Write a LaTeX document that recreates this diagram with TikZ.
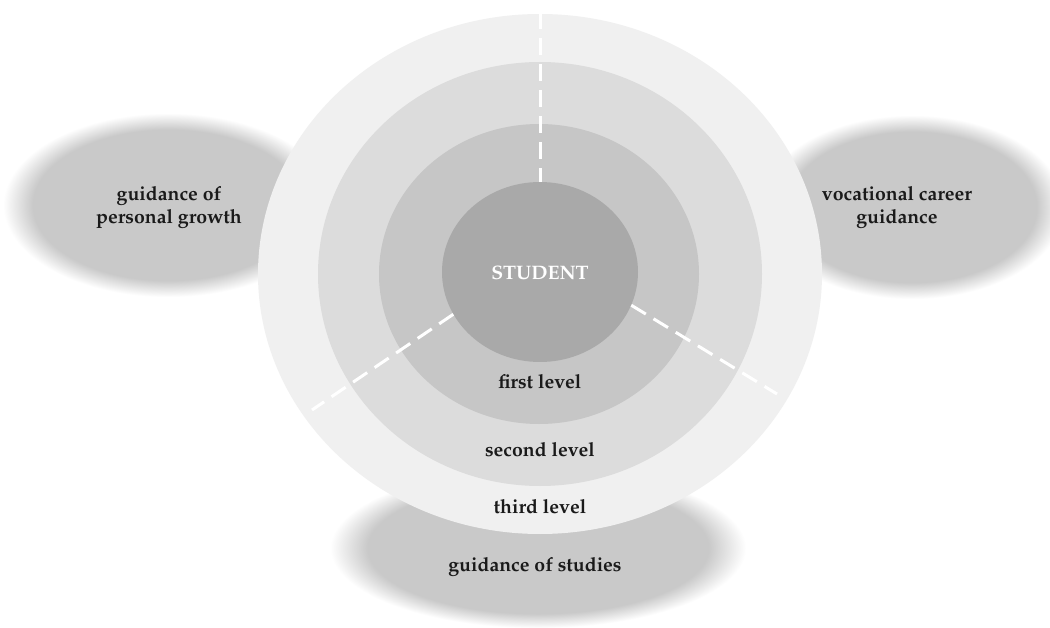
\documentclass[tikz,border=0pt]{standalone}
\usepackage[T1]{fontenc}
\renewcommand{\rmdefault}{ppl}
\usetikzlibrary{shapes.geometric}
\definecolor{blobg}{HTML}{C9C9C9}
\definecolor{ringa}{HTML}{F0F0F0}
\definecolor{ringb}{HTML}{DCDCDC}
\definecolor{ringc}{HTML}{C6C6C6}
\definecolor{ringd}{HTML}{A9A9A9}
\definecolor{labc}{HTML}{1A1A1A}
\pgfdeclareradialshading{blob}{\pgfpoint{0bp}{0bp}}{color(0bp)=(blobg); color(20.5bp)=(blobg); color(25bp)=(white); color(50bp)=(white)}
\begin{document}
\begin{tikzpicture}[x=1pt,y=-1pt,
  ring/.style={ellipse, inner sep=0pt, draw=none},
  lab/.style={font=\fontsize{19.5}{23}\selectfont\bfseries, text=labc, align=center, inner sep=0pt},
  divider/.style={draw=white, line width=3pt, dash pattern=on 17pt off 9pt}]
\useasboundingbox[fill=white] (0,0) rectangle (1050,628);
% soft background blobs
\shade[shading=blob] (168,205) ellipse [x radius=165, y radius=92];
\shade[shading=blob] (912,207) ellipse [x radius=152, y radius=92];
\shade[shading=blob] (538,548) ellipse [x radius=208, y radius=80];
% rings
\node[ring, fill=ringa, minimum width=564pt, minimum height=520pt] (outer) at (540,274) {};
\node[ring, fill=ringb, minimum width=444pt, minimum height=424pt] (second) at (540,274) {};
\node[ring, fill=ringc, minimum width=320pt, minimum height=300pt] (third) at (539,274) {};
\node[ring, fill=ringd, minimum width=196pt, minimum height=180pt] (inner) at (540,272) {};
% dividers
\coordinate (topend) at (540,12);
\coordinate (leftend) at (312,410);
\coordinate (rightend) at (777,394);
\draw[divider] (topend) -- (inner.90);
\draw[divider] (inner.206) -- (leftend);
\draw[divider] (inner.340) -- (rightend);
% labels
\node[lab, text=white] (student) at (540,273) {STUDENT};
\node[lab] (first) at (540,382) {first level};
\node[lab] (secondl) at (540,450) {second level};
\node[lab] (thirdl) at (540,507) {third level};
\node[lab] (studies) at (535,567) {guidance of studies};
\node[lab] (personal) at (169,207) {guidance of\\personal growth};
\node[lab] (career) at (897,207) {vocational career\\guidance};
\end{tikzpicture}
\end{document}
